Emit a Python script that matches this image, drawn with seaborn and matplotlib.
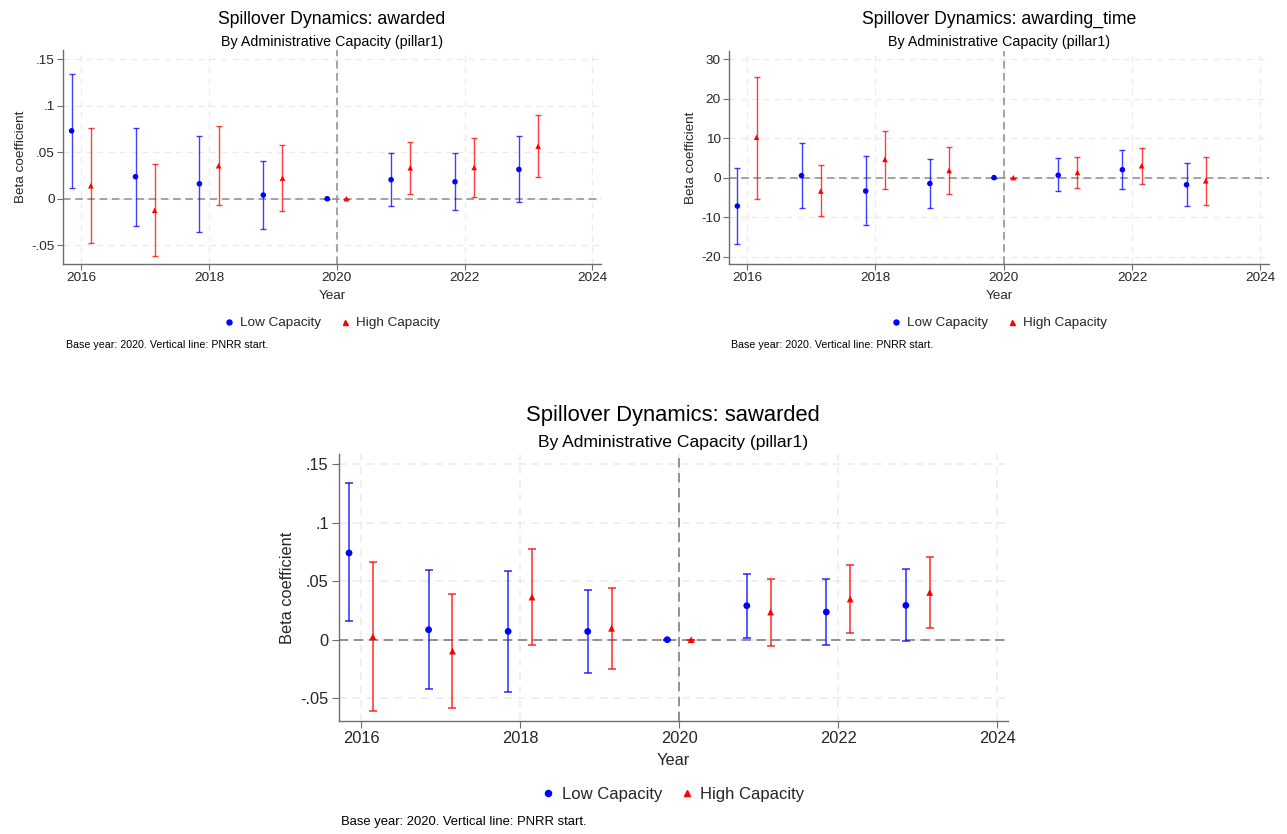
import numpy as np
import pandas as pd
import matplotlib
matplotlib.use("Agg")
import matplotlib.pyplot as plt
from matplotlib.lines import Line2D
import seaborn as sns

# ---------------- data ----------------
years = [2016, 2017, 2018, 2019, 2020, 2021, 2022, 2023]
groups = ["Low Capacity", "High Capacity"]

# awarded
aw_low_b  = [0.0729, 0.0236, 0.0160, 0.0039, 0.0, 0.0204, 0.0182, 0.0314]
aw_low_lo = [0.0114, -0.0290, -0.0354, -0.0320, 0.0, -0.0079, -0.0121, -0.0039]
aw_low_hi = [0.1340, 0.0764, 0.0675, 0.0407, 0.0, 0.0496, 0.0489, 0.0671]
aw_high_b  = [0.0139, -0.0125, 0.0354, 0.0221, 0.0, 0.0332, 0.0336, 0.0564]
aw_high_lo = [-0.0475, -0.0618, -0.0071, -0.0132, 0.0, 0.0050, 0.0018, 0.0236]
aw_high_hi = [0.0761, 0.0371, 0.0782, 0.0579, 0.0, 0.0614, 0.0657, 0.0896]

# awarding_time
at_low_b  = [-7.2, 0.5, -3.4, -1.5, 0.0, 0.6, 2.0, -1.8]
at_low_lo = [-16.7, -7.6, -12.1, -7.6, 0.0, -3.5, -2.9, -7.1]
at_low_hi = [2.4, 8.8, 5.5, 4.7, 0.0, 5.0, 7.0, 3.8]
at_high_b  = [10.2, -3.4, 4.6, 1.8, 0.0, 1.3, 3.0, -0.8]
at_high_lo = [-5.5, -9.7, -2.9, -4.2, 0.0, -2.7, -1.7, -7.0]
at_high_hi = [25.5, 3.1, 11.9, 7.8, 0.0, 5.3, 7.6, 5.2]

# sawarded
sa_low_b  = [0.0740, 0.0085, 0.0071, 0.0070, 0.0, 0.0290, 0.0236, 0.0293]
sa_low_lo = [0.0156, -0.0418, -0.0443, -0.0284, 0.0, 0.0017, -0.0048, -0.0011]
sa_low_hi = [0.1335, 0.0597, 0.0588, 0.0426, 0.0, 0.0563, 0.0517, 0.0600]
sa_high_b  = [0.0026, -0.0097, 0.0364, 0.0097, 0.0, 0.0236, 0.0347, 0.0403]
sa_high_lo = [-0.0610, -0.0585, -0.0043, -0.0247, 0.0, -0.0051, 0.0054, 0.0097]
sa_high_hi = [0.0660, 0.0390, 0.0770, 0.0437, 0.0, 0.0514, 0.0639, 0.0705]

aw_yticks = [-0.05, 0, 0.05, 0.1, 0.15]
aw_ylabels = ["-.05", "0", ".05", ".1", ".15"]
at_yticks = [-20, -10, 0, 10, 20, 30]
at_ylabels = ["-20", "-10", "0", "10", "20", "30"]
x_ticks = [2016, 2018, 2020, 2022, 2024]

# ---------------- style ----------------
sns.set_theme(style="white")
plt.rcParams["font.family"] = ["Liberation Sans", "DejaVu Sans"]

W, H = 1287, 834
fig = plt.figure(figsize=(W / 100, H / 100), dpi=100)
fig.patch.set_facecolor("white")

BLUE = "#0000ff"
RED = "#ff0000"
palette = {"Low Capacity": BLUE, "High Capacity": RED}
markers = {"Low Capacity": "o", "High Capacity": "^"}
OFF = 0.15


def px_box(left, top, right, bottom):
    return [left / W, 1 - bottom / H, (right - left) / W, (bottom - top) / H]


def make_df(lb, llo, lhi, hb, hlo, hhi):
    rows = []
    for i, y in enumerate(years):
        rows.append(dict(year=y, group="Low Capacity", x=y - OFF, beta=lb[i], lo=llo[i], hi=lhi[i]))
        rows.append(dict(year=y, group="High Capacity", x=y + OFF, beta=hb[i], lo=hlo[i], hi=hhi[i]))
    return pd.DataFrame(rows)


def panel(box, df, yticks, ylabels, ylim, scale):
    ax = fig.add_axes(px_box(*box))
    ax.set_facecolor("white")
    # grid
    for yt in yticks:
        ax.axhline(yt, color="#ebebeb", lw=0.9 * scale, ls=(0, (5, 4)), zorder=0)
    for xt in x_ticks:
        ax.axvline(xt, color="#ebebeb", lw=0.9 * scale, ls=(0, (5, 4)), zorder=0)
    ax.axhline(0, color="#8c8c8c", lw=1.1 * scale, ls=(0, (5, 3)), zorder=1)
    ax.axvline(2020, color="#8c8c8c", lw=1.1 * scale, ls=(0, (5, 3)), zorder=1)
    # error bars
    for g in groups:
        d = df[df.group == g]
        ax.errorbar(d["x"], d["beta"],
                     yerr=[d["beta"] - d["lo"], d["hi"] - d["beta"]],
                     fmt="none", ecolor=palette[g], alpha=0.75,
                     elinewidth=1.0 * scale, capsize=2.2 * scale,
                     capthick=1.0 * scale, zorder=2)
    sns.scatterplot(data=df, x="x", y="beta", hue="group", style="group",
                    palette=palette, markers=markers, s=16 * scale ** 2,
                    linewidth=0, legend=False, ax=ax, zorder=3)
    ax.set_xlim(2015.72, 2024.13)
    ax.set_ylim(*ylim)
    ax.set_xticks(x_ticks)
    ax.set_xticklabels([str(t) for t in x_ticks], fontsize=9.7 * scale)
    ax.set_yticks(yticks)
    ax.set_yticklabels(ylabels, fontsize=9.7 * scale)
    ax.tick_params(axis="both", direction="out", length=4 * scale, width=0.8,
                   color="#6e6e6e", pad=2 * scale, left=True, bottom=True)
    for s in ["top", "right"]:
        ax.spines[s].set_visible(False)
    for s in ["left", "bottom"]:
        ax.spines[s].set_color("#6e6e6e")
        ax.spines[s].set_linewidth(1.0)
    ax.set_xlabel("Year", fontsize=9.7 * scale, labelpad=4 * scale)
    ax.set_ylabel("Beta coefficient", fontsize=9.7 * scale, labelpad=3 * scale)
    return ax


def annotate(box, title, tsize, ssize, lsize, nsize, title_y, sub_y, leg_y, note_x, note_y, msize, colsp):
    cx = (box[0] + box[2]) / 2
    fig.text(cx / W, 1 - title_y / H, title, ha="center", va="center",
             fontsize=tsize, color="black")
    fig.text(cx / W, 1 - sub_y / H, "By Administrative Capacity (pillar1)",
             ha="center", va="center", fontsize=ssize, color="black")
    handles = [Line2D([], [], ls="none", marker="o", color=BLUE, markersize=msize),
               Line2D([], [], ls="none", marker="^", color=RED, markersize=msize)]
    fig.legend(handles, groups, loc="center", bbox_to_anchor=(cx / W, 1 - leg_y / H),
               ncol=2, frameon=False, fontsize=lsize, handlelength=0.8,
               handletextpad=0.4, columnspacing=colsp)
    fig.text(note_x / W, 1 - note_y / H, "Base year: 2020. Vertical line: PNRR start.",
             ha="left", va="center", fontsize=nsize, color="black")


# panel 1: awarded
b1 = (63.3, 50, 600.7, 263.7)
df1 = make_df(aw_low_b, aw_low_lo, aw_low_hi, aw_high_b, aw_high_lo, aw_high_hi)
panel(b1, df1, aw_yticks, aw_ylabels, (-0.0698, 0.1597), 1.0)
annotate(b1, "Spillover Dynamics: awarded", 12.7, 10.3, 9.7, 7.7, 19, 42, 323, 66, 345, 3.6, 1.4)

# panel 2: awarding_time
b2 = (729, 50.7, 1268.7, 264)
df2 = make_df(at_low_b, at_low_lo, at_low_hi, at_high_b, at_high_lo, at_high_hi)
panel(b2, df2, at_yticks, at_ylabels, (-21.85, 32.1), 1.0)
annotate(b2, "Spillover Dynamics: awarding_time", 12.7, 10.3, 9.7, 7.7, 19, 42, 323, 731, 345, 3.6, 1.4)

# panel 3: sawarded
b3 = (338.7, 454, 1007.7, 721)
df3 = make_df(sa_low_b, sa_low_lo, sa_low_hi, sa_high_b, sa_high_lo, sa_high_hi)
panel(b3, df3, aw_yticks, aw_ylabels, (-0.0694, 0.1585), 1.22)
annotate(b3, "Spillover Dynamics: sawarded", 15.8, 12.6, 12.0, 9.4, 415, 442, 794, 341, 822, 4.4, 1.1)

fig.savefig("out.png", dpi=100, facecolor="white")
